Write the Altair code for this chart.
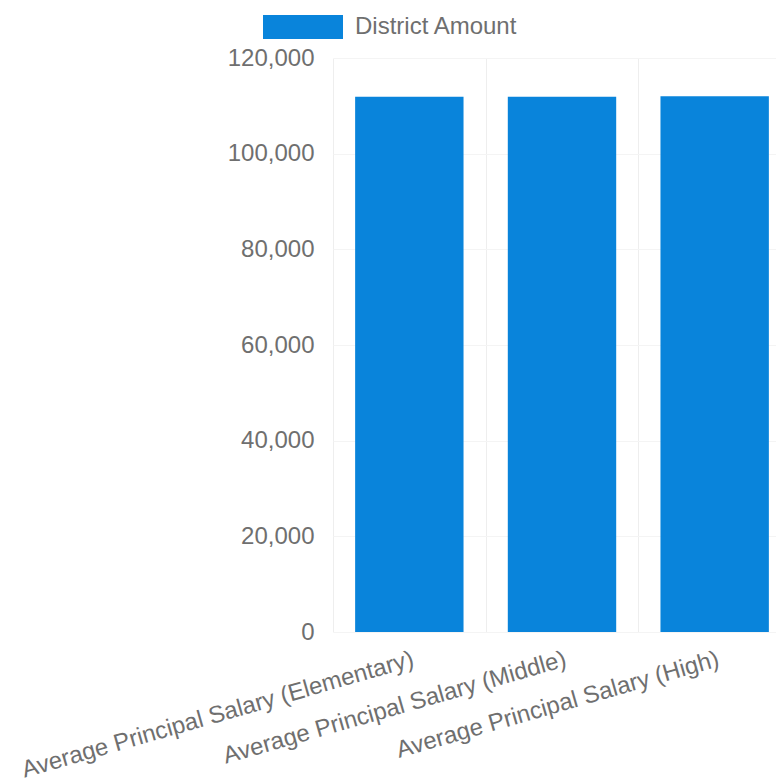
import altair as alt
import pandas as pd

categories = [
    "Average Principal Salary (Elementary)",
    "Average Principal Salary (Middle)",
    "Average Principal Salary (High)",
]
values = [111900, 111900, 112000]
series = ["District Amount"] * 3

df = pd.DataFrame({"category": categories, "value": values, "series": series})

FONT = "Liberation Sans"
GRAY = "#6f6f6f"

chart = alt.Chart(df).mark_bar(width=alt.RelativeBandSize(0.71)).encode(
    x=alt.X(
        "category:N",
        sort=categories,
        title=None,
        scale=alt.Scale(paddingInner=0, paddingOuter=0, range=[0, 458]),
        axis=alt.Axis(
            labelAngle=344,
            labelAlign="right",
            labelBaseline="top",
            labelPadding=15,
            labelFontSize=24,
            labelColor=GRAY,
            labelFont=FONT,
            labelLimit=600,
            ticks=False,
            domain=False,
            grid=True,
            tickBand="extent",
            gridColor="#eeeeee",
            gridWidth=1,
        ),
    ),
    y=alt.Y(
        "value:Q",
        title=None,
        scale=alt.Scale(domain=[0, 120000]),
        axis=alt.Axis(
            values=[0, 20000, 40000, 60000, 80000, 100000, 120000],
            format=",.0f",
            labelPadding=19,
            labelFontSize=24,
            labelColor=GRAY,
            labelFont=FONT,
            ticks=False,
            domain=False,
            grid=True,
            gridColor="#f4f4f4",
        ),
    ),
    color=alt.Color(
        "series:N",
        scale=alt.Scale(range=["#0984DB"]),
        legend=alt.Legend(
            title=None,
            orient="none",
            legendX=-70,
            legendY=-71,
            padding=0,
            symbolType="M-1,-0.3L1,-0.3L1,0.3L-1,0.3Z",
            symbolSize=6400,
            symbolStrokeWidth=0,
            symbolOpacity=1,
            labelFontSize=24,
            labelColor=GRAY,
            labelFont=FONT,
            labelOffset=12,
            labelLimit=400,
        ),
    ),
).properties(
    width=443,
    height=574,
    autosize=alt.AutoSizeParams(type="none"),
    padding={"left": 333, "top": 58, "right": 0, "bottom": 151},
).configure_view(stroke=None)

chart.save("out.html", embed_options={"renderer": "svg", "actions": False})
